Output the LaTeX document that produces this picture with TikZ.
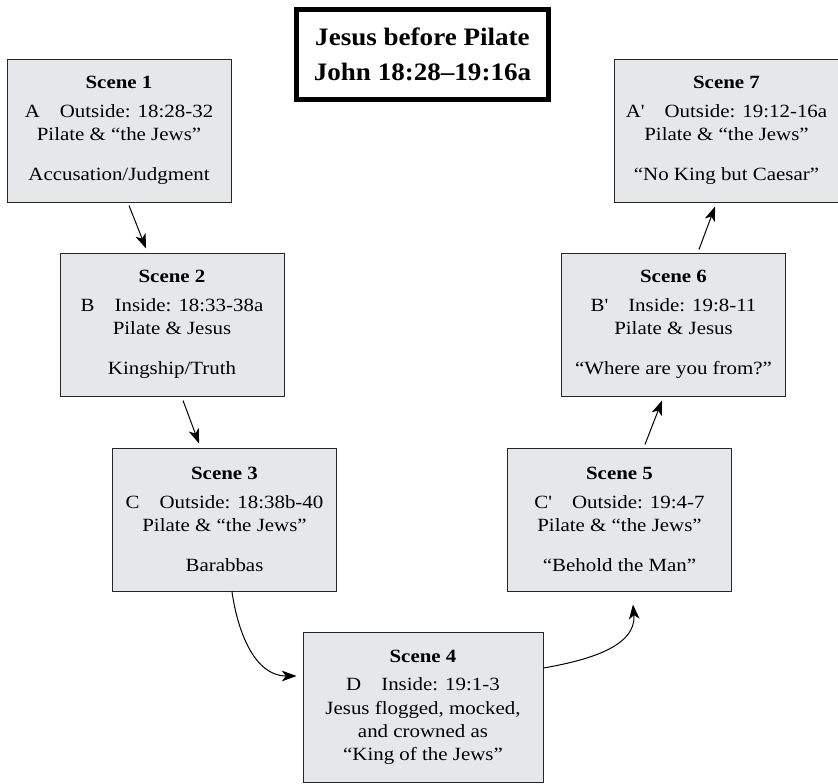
\documentclass[tikz,border=0pt]{standalone}
\usepackage{fontspec}
\setmainfont{Liberation Serif}[Ligatures=TeXOff]
\newfontfamily\scenefont{Liberation Serif}[Ligatures=TeXOff, FakeStretch=1.12]
\newfontfamily\titlefont{Liberation Serif}[Ligatures=TeXOff, FakeStretch=1.08]
\usetikzlibrary{arrows.meta}
\definecolor{scenegray}{RGB}{230,231,232}

\begin{document}
\begin{tikzpicture}[
          x=0.75pt, y=-0.75pt,
          scene/.style={rectangle, draw=black!85, line width=0.75pt, fill=scenegray,
                        minimum width=168pt, minimum height=107.25pt, inner sep=0pt,
                        align=center, font=\scenefont\fontsize{14}{17.5}\selectfont},
          heading/.style={rectangle, draw, line width=4pt, minimum width=188.7pt,
                          minimum height=67.2pt, inner sep=0pt, align=center,
                          font=\titlefont\bfseries\fontsize{18.8}{26}\selectfont},
          arrow/.style={-{Stealth[length=11pt, width=8pt, inset=3pt]}, line width=0.75pt}
        ]
          \useasboundingbox (0,0) rectangle (838,783);

          \node[heading] (title) at (422.5,54.5) {Jesus before Pilate\\John 18:28–19:16a};

          \node[scene] (s1) at (119,130.5) {\textbf{Scene 1}\\[4.25pt]
            A\hspace{15pt}Outside: 18:28-32\\Pilate \& “the Jews”\\[12.5pt]Accusation/Judgment};
          \node[scene] (s2) at (172,324.5) {\textbf{Scene 2}\\[4.25pt]
            B\hspace{15pt}Inside: 18:33-38a\\Pilate \& Jesus\\[12.5pt]Kingship/Truth};
          \node[scene] (s3) at (224.5,519.5) {\textbf{Scene 3}\\[4.25pt]
            C\hspace{15pt}Outside: 18:38b-40\\Pilate \& “the Jews”\\[12.5pt]Barabbas};
          \node[scene, minimum width=180pt, minimum height=112.5pt,
                font=\scenefont\fontsize{14}{17.25}\selectfont] (s4) at (423,707)
            {\textbf{Scene 4}\\[3.75pt]D\hspace{15pt}Inside: 19:1-3\\[0.75pt]
             Jesus flogged, mocked,\\and crowned as\\“King of the Jews”};
          \node[scene] (s5) at (619.5,519.5) {\textbf{Scene 5}\\[4.25pt]
            C'\hspace{15pt}Outside: 19:4-7\\Pilate \& “the Jews”\\[12.5pt]“Behold the Man”};
          \node[scene] (s6) at (673.5,324.5) {\textbf{Scene 6}\\[4.25pt]
            B'\hspace{15pt}Inside: 19:8-11\\Pilate \& Jesus\\[12.5pt]“Where are you from?”};
          \node[scene] (s7) at (726.5,130.5) {\textbf{Scene 7}\\[4.25pt]
            A'\hspace{15pt}Outside: 19:12-16a\\Pilate \& “the Jews”\\[12.5pt]“No King but Caesar”};

          % down the left side
          \draw[arrow] ([xshift=7.5pt, yshift=-2.25pt]s1.south) -- ([xshift=-19.5pt, yshift=3pt]s2.north);
          \draw[arrow] ([xshift=8.25pt, yshift=-3pt]s2.south) -- ([xshift=-19.1pt, yshift=3pt]s3.north);
          \draw[arrow] ([xshift=5.6pt]s3.south) to[out=-82, in=180] ([xshift=-4.5pt, yshift=23.25pt]s4.west);
          % up the right side
          \draw[arrow] ([yshift=29.25pt]s4.east) to[out=10, in=-85] ([xshift=10.1pt, yshift=-9.75pt]s5.south);
          \draw[arrow] ([xshift=19.1pt, yshift=2.25pt]s5.north) -- ([xshift=-8.6pt, yshift=-3pt]s6.south);
          \draw[arrow] ([xshift=19.1pt, yshift=2.25pt]s6.north) -- ([xshift=-8.6pt, yshift=-3pt]s7.south);
\end{tikzpicture}
\end{document}
